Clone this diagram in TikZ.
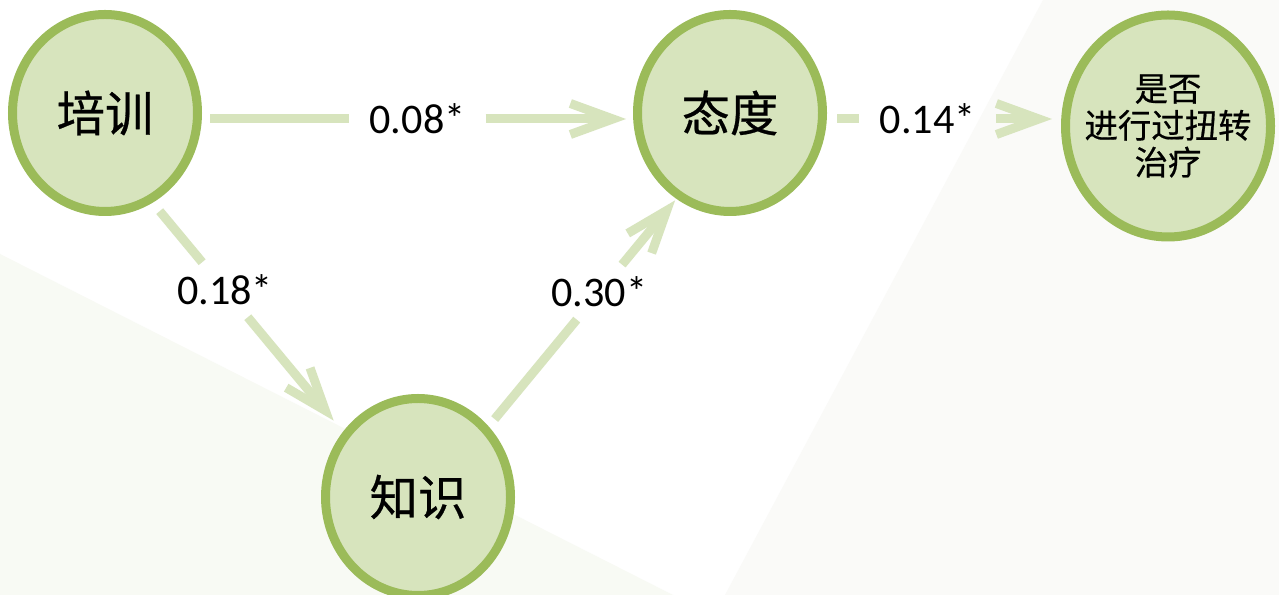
\documentclass[tikz,border=0pt]{standalone}
\usepackage{fontspec}
\setmainfont{Carlito}
\newfontfamily\cjk[FakeBold=0.6]{Noto Sans CJK SC}
\usetikzlibrary{shapes.geometric, arrows.meta}
\definecolor{nodeborder}{RGB}{155,187,89}
\definecolor{nodefill}{RGB}{215,228,189}
\definecolor{linkgreen}{RGB}{215,228,189}
\definecolor{bgreen}{RGB}{248,250,244}
\definecolor{bgray}{RGB}{250,250,248}
\tikzset{
	factor/.style={shape=ellipse, draw=nodeborder, fill=nodefill, line width=0.18cm, minimum width=3.7cm, minimum height=3.94cm, inner sep=0pt, align=center, font=\cjk\fontsize{27.5}{32}\selectfont},
	linkpart/.style={draw=linkgreen, line width=0.18cm},
	link/.style={linkpart, -{Straight Barb[sharp, length=0.85cm, width=0.62cm]}},
	coef/.style={inner xsep=0.4cm, inner ysep=0.24cm, font=\fontsize{24}{28}\selectfont}
}

\begin{document}
\begin{tikzpicture}
	% Background:
	\fill[white] (0, 0) rectangle (25.58, 11.9);
	\fill[bgreen] (0, 6.82) -- (13.46, 0) -- (0, 0) -- cycle;
	\fill[bgray] (20.86, 11.9) -- (25.58, 11.9) -- (25.58, 0) -- (14.5, 0) -- cycle;
	\useasboundingbox (0, 0) rectangle (25.58, 11.9);
	% Nodes:
	\node[factor] (train) at (2.1, 9.64) {培训};
	\node[factor] (attitude) at (14.6, 9.64) {态度};
	\node[factor] (knowledge) at (8.36, 1.96) {知识};
	\node[factor, minimum width=4.1cm, minimum height=4.44cm, inner xsep=-0.35cm, font=\cjk\fontsize{19}{21}\selectfont] (treat) at (23.36, 9.38) {是否\\进行过扭转\\治疗};
	% Coefficients:
	\path ([yshift=-0.12cm]train.east) -- node[coef, pos=0.5] (c08) {0.08*} ([yshift=-0.12cm]attitude.west);
	\path ([yshift=-0.12cm]attitude.east) -- node[coef, pos=0.43] (c14) {0.14*} ([yshift=0.14cm]treat.west);
	\path (train.-62) -- node[coef, pos=0.38] (c18) {0.18*} (knowledge.139);
	\path (knowledge.45) -- node[coef, pos=0.59] (c30) {0.30*} (attitude.-122);
	% Paths:
	\draw[linkpart, shorten <=0.16cm] ([yshift=-0.12cm]train.east) -- (c08);
	\draw[link, shorten >=0.14cm] (c08) -- ([yshift=-0.12cm]attitude.west);
	\draw[linkpart, shorten <=0.2cm] ([yshift=-0.12cm]attitude.east) -- (c14);
	\draw[link, shorten >=0.18cm] (c14) -- ([yshift=0.14cm]treat.west);
	\draw[linkpart, shorten <=0.22cm] (train.-62) -- (c18);
	\draw[link, shorten >=0.29cm] (c18) -- (knowledge.139);
	\draw[linkpart, shorten <=0.19cm] (knowledge.45) -- (c30);
	\draw[link, shorten >=0.04cm] (c30) -- (attitude.-122);
\end{tikzpicture}
\end{document}
